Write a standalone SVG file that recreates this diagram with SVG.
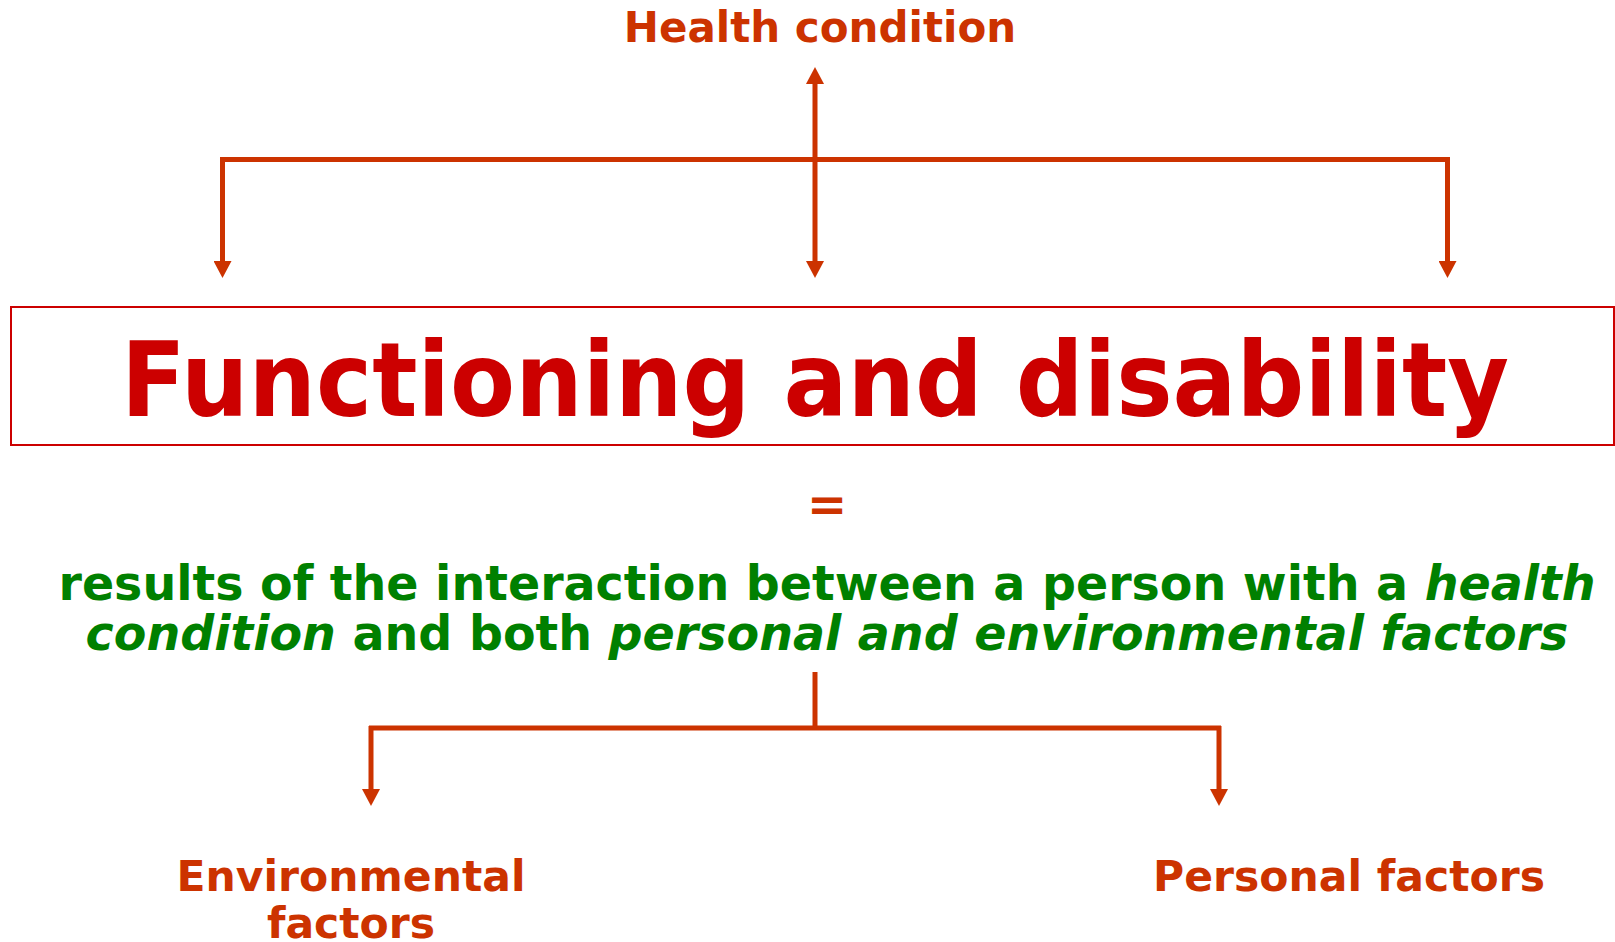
<svg xmlns="http://www.w3.org/2000/svg" width="1615" height="942" viewBox="0 0 1615 942">
<style>
.lbl{font-family:"DejaVu Sans","Verdana",sans-serif;font-weight:bold;fill:#CC3300;text-anchor:middle}
.grn{font-family:"DejaVu Sans","Verdana",sans-serif;font-weight:bold;fill:#008000;text-anchor:middle;font-size:47.5px}
.ln{stroke:#CC3300;stroke-width:5;fill:none}
</style>
<defs>
<marker id="ad" viewBox="0 0 17 18" refX="0" refY="9" markerWidth="17" markerHeight="18" markerUnits="userSpaceOnUse" orient="auto-start-reverse">
<path d="M0,0 L17,9 L0,18 Z" fill="#CC3300"/>
</marker>
</defs>
<g id="health"><text class="lbl" x="820" y="42" font-size="42">Health condition</text></g>
<g id="fd">
<rect x="11" y="307" width="1603" height="138" fill="none" stroke="#CC0000" stroke-width="2"/>
<text x="815" y="416" font-family="DejaVu Sans, Verdana, sans-serif" font-weight="bold" font-size="104" fill="#CC0000" text-anchor="middle" textLength="1388" lengthAdjust="spacingAndGlyphs">Functioning and disability</text>
</g>
<g id="eq"><text class="lbl" x="827" y="521" font-size="48">=</text></g>
<g id="desc">
<text class="grn" x="827" y="600">results of the interaction between a person with a <tspan font-style="italic">health</tspan></text>
<text class="grn" x="827" y="650"><tspan font-style="italic">condition</tspan> and both <tspan font-style="italic">personal and environmental factors</tspan></text>
</g>
<g id="env"><text class="lbl" x="351" y="891" font-size="42.5">Environmental</text><text class="lbl" x="351" y="938" font-size="42.5">factors</text></g>
<g id="pers"><text class="lbl" x="1349" y="891" font-size="42.5">Personal factors</text></g>
<g id="connectors">
<line class="ln" x1="220" y1="159.5" x2="1450" y2="159.5"/>
<line class="ln" x1="222.5" y1="157" x2="222.5" y2="261" marker-end="url(#ad)"/>
<line class="ln" x1="815" y1="84" x2="815" y2="261" marker-start="url(#ad)" marker-end="url(#ad)"/>
<line class="ln" x1="1447.5" y1="157" x2="1447.5" y2="261" marker-end="url(#ad)"/>
<line class="ln" x1="815" y1="672" x2="815" y2="728"/>
<line class="ln" x1="369" y1="728" x2="1221" y2="728"/>
<line class="ln" x1="371" y1="726" x2="371" y2="789" marker-end="url(#ad)"/>
<line class="ln" x1="1219" y1="726" x2="1219" y2="789" marker-end="url(#ad)"/>
</g>
</svg>
